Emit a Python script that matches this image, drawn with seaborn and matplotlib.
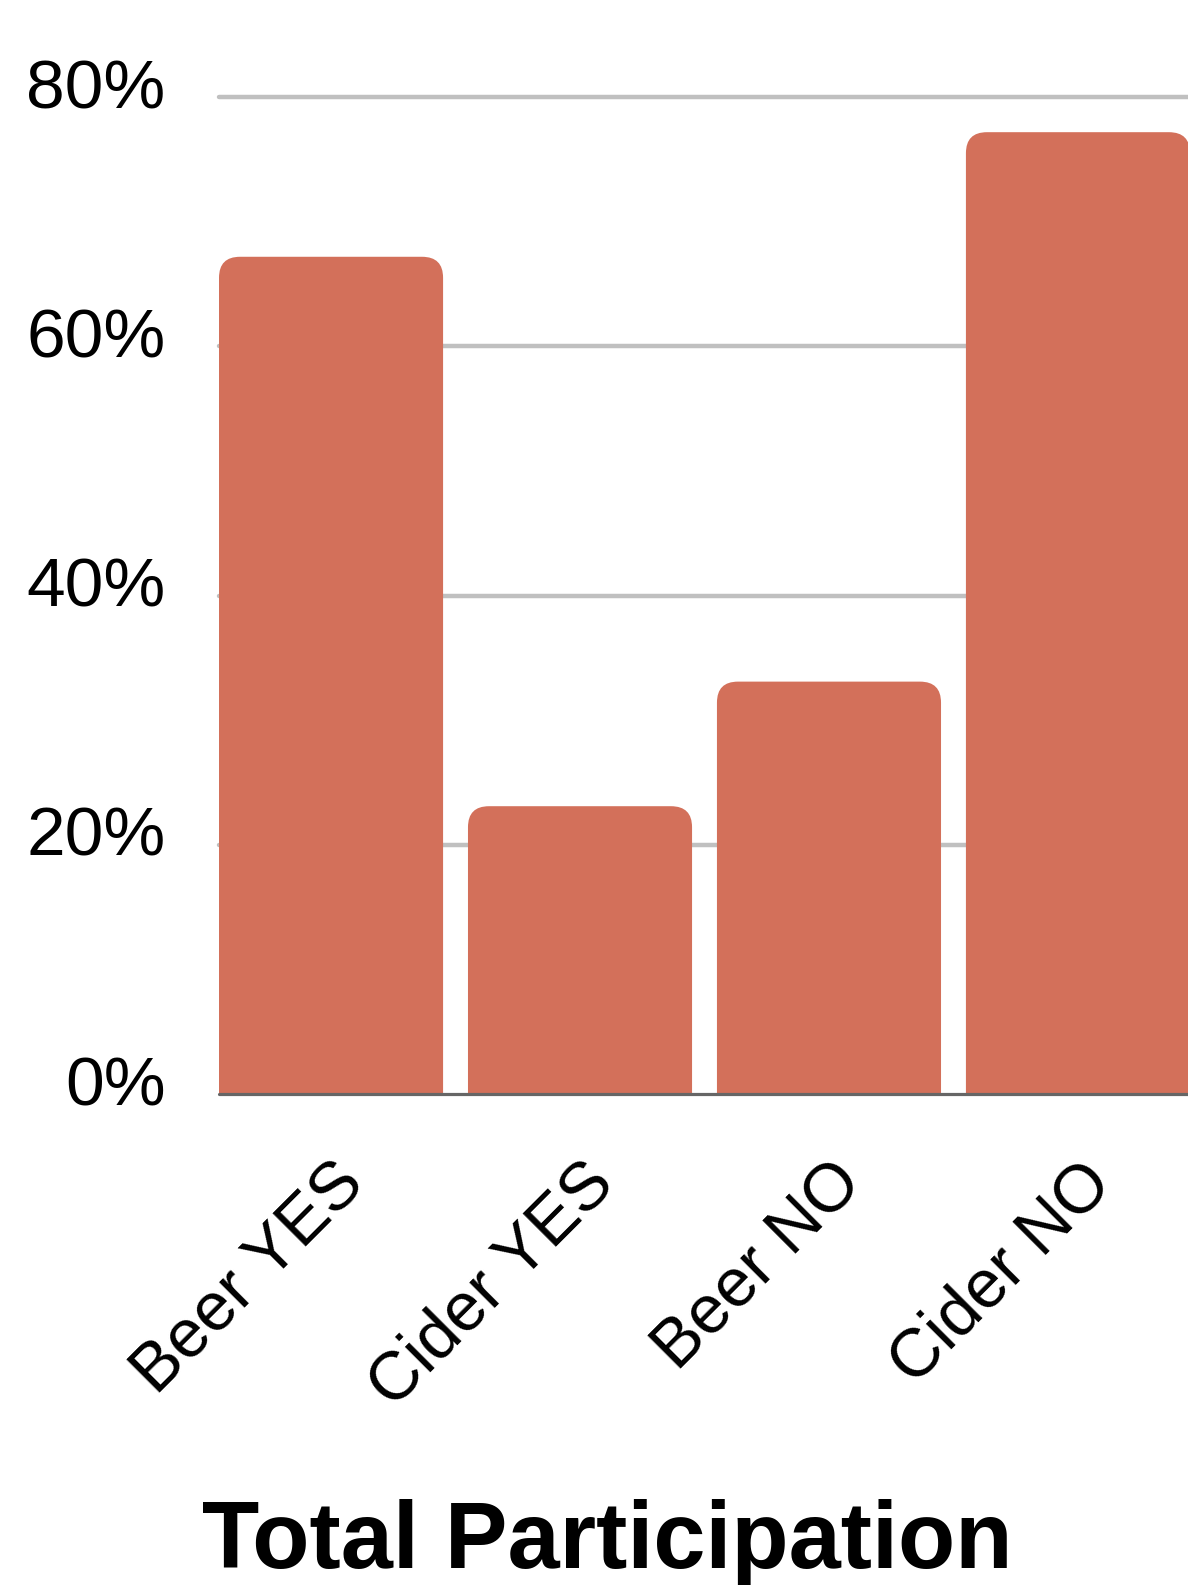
import matplotlib
matplotlib.use("Agg")
import numpy as np
import pandas as pd
import seaborn as sns
import matplotlib.pyplot as plt
from matplotlib.patches import FancyBboxPatch
from matplotlib.transforms import ScaledTranslation

# ---- data ----
categories = ["Beer YES", "Cider YES", "Beer NO", "Cider NO"]
values = [67.2, 23.1, 33.1, 77.2]
yticks = [0, 20, 40, 60, 80]
ytick_labels = ["0%", "20%", "40%", "60%", "80%"]
title = "Total Participation"

bar_color = "#d3705a"

sns.set_theme(style="white")
plt.rcParams['font.family'] = ['Liberation Sans', 'DejaVu Sans']

W, H = 1188, 1585
fig = plt.figure(figsize=(W / 100, H / 100), dpi=100)
left_px, right_px, top_px, bot_px = 219, 1190, 97.3, 1094
ax = fig.add_axes([left_px / W, 1 - bot_px / H, (right_px - left_px) / W, (bot_px - top_px) / H])

df = pd.DataFrame({"cat": categories, "val": values})
sns.barplot(data=df, x="cat", y="val", ax=ax, color=bar_color, width=0.9, saturation=1)
ax.set_xlim(-0.45, 3.45)
ax.set_ylim(0, 80)

# rounded top corners
px_x = (right_px - left_px) / 3.9
px_y = (bot_px - top_px) / 80
r = 21 / px_x
asp = px_x / px_y
for p in list(ax.patches):
    x, w, h = p.get_x(), p.get_width(), p.get_height()
    p.remove()
    fb = FancyBboxPatch((x, -5), w, h + 5, boxstyle=f"round,pad=0,rounding_size={r}",
                        mutation_aspect=asp, fc=bar_color, ec="none", zorder=2)
    ax.add_patch(fb)

for y in [20, 40, 60, 80]:
    ax.axhline(y, color="#c0c0c0", lw=3.2, zorder=0, clip_on=False)
ax.axhline(0, color="#666666", lw=2.3, zorder=3, clip_on=False)

for s in ax.spines.values():
    s.set_visible(False)
ax.set_xlabel("")
ax.set_ylabel("")

ax.set_yticks(yticks, ytick_labels)
ax.tick_params(axis="y", length=0, pad=38.5, labelsize=50, labelcolor="black")
for lab in ax.get_yticklabels():
    lab.set_va("baseline")
    lab.set_transform(lab.get_transform() + ScaledTranslation(0, -0.11, fig.dpi_scale_trans))

ax.set_xticks(range(len(categories)), categories)
ax.tick_params(axis="x", length=0, pad=0, labelsize=49, labelcolor="black")
for lab in ax.get_xticklabels():
    lab.set_rotation(45)
    lab.set_ha("right")
    lab.set_va("baseline")
    lab.set_rotation_mode("anchor")
    lab.set_transform(lab.get_transform() + ScaledTranslation(0.36, -0.92, fig.dpi_scale_trans))

fig.text(607 / W, 1 - 1568 / H, title, ha="center", va="baseline",
         fontsize=67.5, fontweight="bold", color="black")

fig.savefig("out.png", dpi=100)
